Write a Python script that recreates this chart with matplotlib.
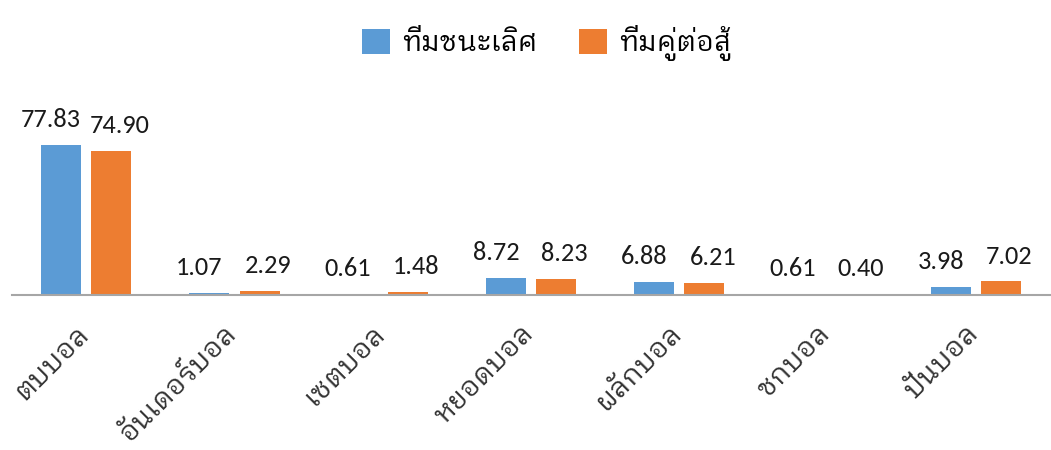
import matplotlib
matplotlib.use("Agg")
import numpy as np
from matplotlib import pyplot as plt
from matplotlib.transforms import ScaledTranslation

# ข้อมูล
ท่า = ["ตบบอล", "อันเดอร์บอล", "เซตบอล", "หยอดบอล", "ผลักบอล", "ชกบอล", "ปั่นบอล"]
ทีมชนะ = [77.83, 1.07, 0.61, 8.72, 6.88, 0.61, 3.98]
ทีมคู่ต่อสู้ = [74.90, 2.29, 1.48, 8.23, 6.21, 0.40, 7.02]
ชื่อชุด = ["ทีมชนะเลิศ", "ทีมคู่ต่อสู้"]

ฟอนต์ไทย = ["IBM Plex Sans Thai Looped", "Noto Sans Thai Looped", "DejaVu Sans"]
plt.rcParams["font.family"] = ["Carlito", "Lato", "DejaVu Sans"]

fig = plt.figure(figsize=(10.51, 4.5), dpi=100)
ax = fig.add_axes([0.0114, 0.3444, 0.9876, 0.3855])

x = np.arange(len(ท่า))
w = 0.27
b1 = ax.bar(x - 0.17, ทีมชนะ, w, color="#5B9BD5", label=ชื่อชุด[0])
b2 = ax.bar(x + 0.17, ทีมคู่ต่อสู้, w, color="#ED7D31", label=ชื่อชุด[1])

for bars, vals, dx in [(b1, ทีมชนะ, -7), (b2, ทีมคู่ต่อสู้, 6)]:
    for r, v in zip(bars, vals):
        ax.annotate("%.2f" % v, (r.get_x() + r.get_width() / 2, v),
                    xytext=(dx, 10), textcoords="offset points",
                    ha="center", va="bottom", fontsize=19, color="#1a1a1a",
                    annotation_clip=False)

ax.set_xlim(-0.5, len(ท่า) - 0.5)
ax.set_ylim(0, 90)
ax.set_yticks([])
ax.set_xticks(x)
ax.set_xticklabels(ท่า, rotation=45, ha="right", va="top",
                   fontsize=20, family=ฟอนต์ไทย, fontweight="normal", color="#333333")
ax.tick_params(axis="x", length=0, pad=18)
off = ScaledTranslation(8 / 100, 0, fig.dpi_scale_trans)
for lab in ax.get_xticklabels():
    lab.set_transform(lab.get_transform() + off)
for s in ["top", "right", "left"]:
    ax.spines[s].set_visible(False)
ax.spines["bottom"].set_color("#A6A6A6")
ax.spines["bottom"].set_linewidth(1.5)

leg = fig.legend(loc="upper center", bbox_to_anchor=(0.52, 1.0), ncol=2, frameon=False,
                 prop={"family": ฟอนต์ไทย, "size": 20},
                 handlelength=1.0, handleheight=1.0, handletextpad=0.45, columnspacing=1.5)

fig.savefig("out.png")
